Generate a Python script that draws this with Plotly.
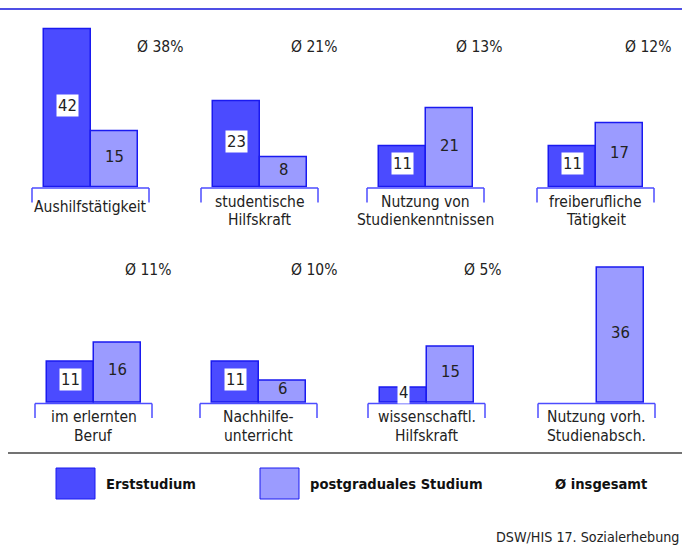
import plotly.graph_objects as go

# ---------------- data ----------------
categories = [
    "Aushilfstätigkeit",
    "studentische<br>Hilfskraft",
    "Nutzung von<br>Studienkenntnissen",
    "freiberufliche<br>Tätigkeit",
    "im erlernten<br>Beruf",
    "Nachhilfe-<br>unterricht",
    "wissenschaftl.<br>Hilfskraft",
    "Nutzung vorh.<br>Studienabsch.",
]
series = ["Erststudium", "postgraduales Studium"]
erststudium = [42, 23, 11, 11, 11, 11, 4, None]
postgradual = [15, 8, 21, 17, 16, 6, 15, 36]
avg_total = [38, 21, 13, 12, 11, 10, 5, None]
avg_label = "Ø insgesamt"
source = "DSW/HIS 17. Sozialerhebung"

# ---------------- styling / layout constants ----------------
W, H = 682, 550
FONT = "DejaVu Sans Condensed, Liberation Sans Narrow, sans-serif"
TXT = "#222222"
DARK = "#4b4bff"
LIGHT = "#9b9bff"
EDGE = "#1a1af0"
BRACKET = "#4d4dff"

def px(x):
    return x / W

def py(y):
    return 1 - y / H

panel_left = [32, 201, 367, 537, 35, 200, 368, 538]
row_base = [187.5, 403]
PANEL_W = 117
PAD = 11.5
BARW = 47.0
SCALE = 3.76
YMAX = 45
avg_right = [185, 339, 504, 673, 173, 339, 504, None]
avg_y = [47, 270]

fig = go.Figure()
shapes = []
annotations = []
layout_axes = {}

for i, cat in enumerate(categories):
    n = "" if i == 0 else str(i + 1)
    row = i // 4
    base = row_base[row]
    left = panel_left[i]
    xa, ya = "x" + n, "y" + n
    layout_axes["xaxis" + n] = dict(
        domain=[px(left), px(left + PANEL_W)],
        range=[-0.5 - PAD / BARW, 1.5 + PAD / BARW],
        visible=False, anchor=ya, fixedrange=True,
    )
    layout_axes["yaxis" + n] = dict(
        domain=[py(base), py(base - YMAX * SCALE)],
        range=[0, YMAX], visible=False, anchor=xa, fixedrange=True,
    )
    vals = [erststudium[i], postgradual[i]]
    fig.add_trace(go.Bar(
        x=series, y=vals, xaxis=xa, yaxis=ya,
        marker=dict(color=[DARK, LIGHT], line=dict(color=EDGE, width=1.5)),
        showlegend=False, hoverinfo="x+y",
    ))
    # value labels
    for j, v in enumerate(vals):
        if v is None:
            continue
        ann = dict(
            x=series[j], y=v / 2, xref=xa, yref=ya, text=str(v),
            showarrow=False, yshift=3,
            font=dict(family=FONT, size=16.5, color=TXT),
        )
        if j == 0:
            ann.update(bgcolor="white", borderpad=1)
        annotations.append(ann)
    # bracket
    dom = xa + " domain"
    shapes.append(dict(type="line", xref=dom, yref="paper", x0=0, x1=1,
                       y0=py(base + 0.5), y1=py(base + 0.5),
                       line=dict(color=BRACKET, width=1.5)))
    for xe in (0, 1):
        shapes.append(dict(type="line", xref=dom, yref="paper", x0=xe, x1=xe,
                           y0=py(base + 0.5), y1=py(base + 15),
                           line=dict(color=BRACKET, width=1.5)))
    # category label lines
    lines = cat.split("<br>")
    offs = [20] if len(lines) == 1 else [14.5, 33]
    for ln, off in zip(lines, offs):
        annotations.append(dict(
            x=0.5, xref=dom, y=py(base + off), yref="paper", text=ln,
            showarrow=False, xanchor="center", yanchor="middle",
            font=dict(family=FONT, size=15.5, color=TXT),
        ))
    # average
    if avg_total[i] is not None:
        annotations.append(dict(
            x=px(avg_right[i]), xref="paper", y=py(avg_y[row]), yref="paper",
            text=f"Ø {avg_total[i]}%", showarrow=False,
            xanchor="right", yanchor="middle",
            font=dict(family=FONT, size=15.5, color=TXT),
        ))

# top rule and separator
shapes.append(dict(type="line", xref="paper", yref="paper", x0=0, x1=1,
                   y0=py(9), y1=py(9), line=dict(color="#1515dd", width=1.5)))
shapes.append(dict(type="line", xref="paper", yref="paper", x0=px(8), x1=1,
                   y0=py(453), y1=py(453), line=dict(color="#444444", width=1.5)))

# legend
leg_items = [(series[0], DARK, 56, 104), (series[1], LIGHT, 260, 308)]
for name, col, x0, tx in leg_items:
    shapes.append(dict(type="rect", xref="paper", yref="paper",
                       x0=px(x0), x1=px(x0 + 39), y0=py(499), y1=py(468),
                       fillcolor=col, line=dict(color=EDGE, width=1)))
    annotations.append(dict(
        x=px(tx), xref="paper", y=py(483), yref="paper",
        text=f"<b>{name}</b>", showarrow=False, xanchor="left", yanchor="middle",
        font=dict(family=FONT, size=14.6, color="#111111"),
    ))
annotations.append(dict(
    x=px(553), xref="paper", y=py(483), yref="paper",
    text=f"<b>{avg_label}</b>", showarrow=False, xanchor="left", yanchor="middle",
    font=dict(family=FONT, size=14.6, color="#111111"),
))
annotations.append(dict(
    x=px(681), xref="paper", y=py(537), yref="paper",
    text=source, showarrow=False, xanchor="right", yanchor="middle",
    font=dict(family=FONT, size=14.2, color=TXT),
))

fig.update_layout(
    width=W, height=H,
    margin=dict(l=0, r=0, t=0, b=0),
    paper_bgcolor="white", plot_bgcolor="white",
    bargap=0,
    shapes=shapes, annotations=annotations,
    showlegend=False,
    **layout_axes,
)

fig.write_html(
    "out.html",
    config={"displayModeBar": False},
    post_script="document.body.style.margin='0px';document.documentElement.style.overflow='hidden';",
)
